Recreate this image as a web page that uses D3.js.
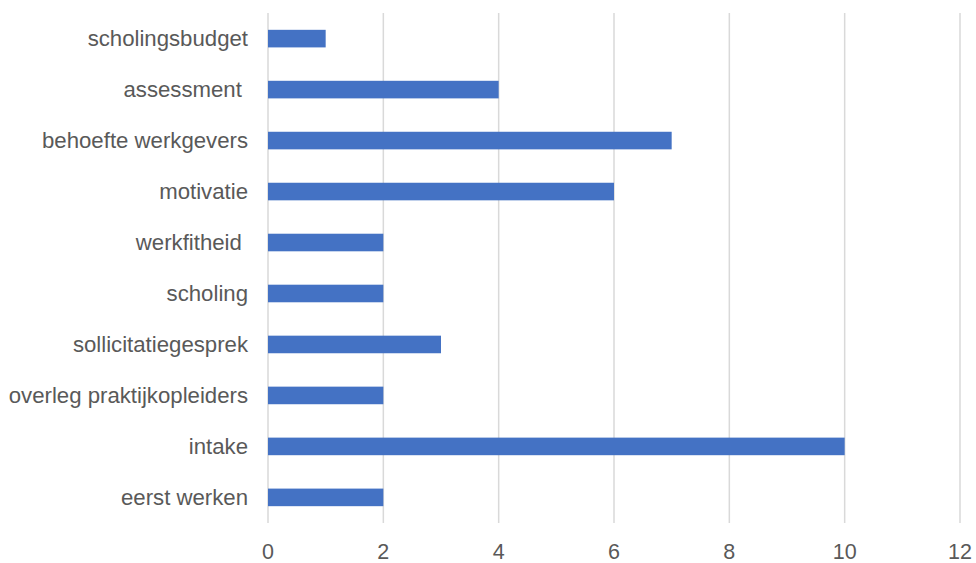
<!DOCTYPE html>
<html>
<head>
<meta charset="utf-8">
<script src="https://cdn.jsdelivr.net/npm/d3@7"></script>
<style>
  html, body { margin: 0; padding: 0; background: #fff; }
  svg text { font-family: "Liberation Sans", Arial, Helvetica, sans-serif; fill: #595959; }
</style>
</head>
<body>
<svg id="chart" width="976" height="563"></svg>
<script>
// Categories (top to bottom) and their counts
const categories = [
  "scholingsbudget",
  "assessment ",
  "behoefte werkgevers",
  "motivatie",
  "werkfitheid ",
  "scholing",
  "sollicitatiegesprek",
  "overleg praktijkopleiders",
  "intake",
  "eerst werken"
];
const values = [1, 4, 7, 6, 2, 2, 3, 2, 10, 2];
const xTicks = [0, 2, 4, 6, 8, 10, 12];

const margin = { top: 13, right: 16, bottom: 40, left: 268 };
const width = 976, height = 563;
const svg = d3.select("#chart");

const x = d3.scaleLinear().domain([0, 12]).range([margin.left, width - margin.right]);
const y = d3.scaleBand().domain(categories).range([margin.top, height - margin.bottom]).paddingInner(0.655).paddingOuter(0.33);

// vertical gridlines
svg.append("g")
  .selectAll("line")
  .data(xTicks)
  .join("line")
  .attr("x1", d => x(d)).attr("x2", d => x(d))
  .attr("y1", margin.top).attr("y2", height - margin.bottom)
  .attr("stroke", "#d9d9d9").attr("stroke-width", 1.5);

// bars
svg.append("g")
  .selectAll("rect")
  .data(categories)
  .join("rect")
  .attr("x", x(0))
  .attr("y", d => y(d))
  .attr("width", (d, i) => x(values[i]) - x(0))
  .attr("height", y.bandwidth())
  .attr("fill", "#4472C4");

// category labels
svg.append("g")
  .selectAll("text")
  .data(categories)
  .join("text")
  .attr("x", margin.left - 20)
  .attr("y", d => y(d) + y.bandwidth() / 2)
  .attr("dy", "0.35em")
  .attr("text-anchor", "end")
  .style("white-space", "pre")
  .attr("font-size", 22.2)
  .text(d => d);

// x tick labels
svg.append("g")
  .selectAll("text")
  .data(xTicks)
  .join("text")
  .attr("x", d => x(d))
  .attr("y", 559)
  .attr("text-anchor", "middle")
  .attr("font-size", 21.5)
  .text(d => d);
</script>
</body>
</html>
